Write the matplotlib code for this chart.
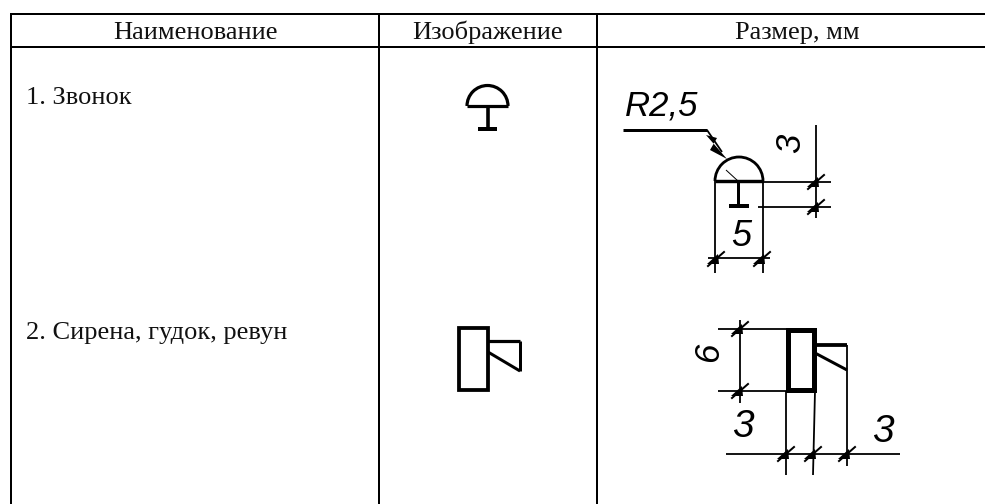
import numpy as np
import matplotlib
matplotlib.use("Agg")
import matplotlib.pyplot as plt
from matplotlib.patches import Arc, Polygon, Rectangle

headers = ["Наименование", "Изображение", "Размер, мм"]
rows = ["1. Звонок", "2. Сирена, гудок, ревун"]

# table grid, in reference pixels; the table runs off the right and bottom edges
grid_x = [11, 379, 597]
grid_top, grid_header = 14, 46.5
header_x = [195, 488, 797.5]

# (x0, y0, x1, y1, width in px)
thin = 1.8
segments = [
    # bell drawing
    (623, 130, 707, 130, 3.0), (707, 130, 722, 152, 1.8),
    (715, 181, 763, 181, 3.4), (738, 181, 738, 206, 3.0), (729, 206, 749, 206, 4.0),
    (715, 181, 715, 273, thin), (763, 181, 763, 273, thin),
    (708, 258, 770, 258, thin), (763, 182, 831, 182, thin), (758, 207, 831, 207, thin),
    (816, 125, 816, 218, thin), (726, 170, 738, 181, 1.0),
    # siren drawing
    (718, 329, 786, 329, thin), (718, 391, 786, 391, thin), (740, 320, 740, 403, thin),
    (786, 391, 786, 475, thin), (815, 391, 813, 475, thin), (847, 345, 847, 466, thin),
    (726, 454, 900, 454, thin),
    (815, 345, 847, 345, 3.8), (815, 353, 847, 370, 3.0),
    # icon: bell
    (467, 106, 508, 106, 3.2), (488, 106, 488, 128, 3.6), (478, 129, 497, 129, 4.0),
    # icon: siren
    (488, 341, 520, 341, 3.2), (520, 341, 520, 371, 3.0), (488, 352, 520, 371, 3.0),
]
# (cx, cy, diameter, width in px)
domes = [(739, 181, 48, 2.8), (487.5, 106, 41, 3.2)]
# (x, y, w, h, width in px)
boxes = [(788, 330, 26, 60, 5.0), (459, 328, 29, 62, 3.8)]
# dimension ticks (x, y)
ticks = [(716, 259), (762, 259), (816, 182), (816, 207), (740, 329), (740, 391),
         (786, 454), (813, 454), (847, 454)]
# arrowhead on the leader (polygon corners)
leader_head = [(706, 135), (727, 159), (710, 150), (717, 138)]
# drawing labels: text, x, y, size, rotation
notes = [("R2,5", 662, 106, 25, 0), ("5", 741, 236, 26, 0), ("3", 791, 143, 25, 90),
         ("6", 709, 352, 25, 90), ("3", 743, 427, 28, 0), ("3", 883, 432, 28, 0)]

fig = plt.figure(figsize=(9.85, 5.04), dpi=100)
ax = fig.add_axes([0, 0, 1, 1])
ax.set_xlim(0, 985)
ax.set_ylim(504, 0)
ax.axis("off")
px = 72 / 100  # one pixel in points

for x in grid_x:
    ax.plot([x, x], [grid_top, 504], color="black", lw=2 * px, solid_capstyle="projecting")
for y in (grid_top, grid_header):
    ax.plot([grid_x[0], 985], [y, y], color="black", lw=2 * px, solid_capstyle="projecting")

serif = dict(family="Liberation Serif", color="#111111")
for x, h in zip(header_x, headers):
    ax.text(x, 39, h, ha="center", va="baseline", fontsize=19, **serif)
for y, r in zip((104, 339), rows):
    ax.text(26, y, r, ha="left", va="baseline", fontsize=19, **serif)

for x0, y0, x1, y1, w in segments:
    ax.plot([x0, x1], [y0, y1], color="black", lw=w * px, solid_capstyle="butt", solid_joinstyle="miter")
for cx, cy, d, w in domes:
    # the y axis is inverted, so the upper half runs from 180 to 360
    ax.add_patch(Arc((cx, cy), d, d, theta1=180, theta2=360, color="black", lw=w * px))
for x, y, bw, bh, w in boxes:
    ax.add_patch(Rectangle((x, y), bw, bh, fill=False, ec="black", lw=w * px, joinstyle="miter"))
for x, y in ticks:
    ax.plot([x - 8, x + 8], [y + 7, y - 7], color="black", lw=2 * px)
    ax.add_patch(Polygon([(x - 9, y + 5), (x + 2, y - 5), (x + 3, y + 5)], color="black", lw=0))
ax.add_patch(Polygon(leader_head, color="black", lw=0))
for s, x, y, size, rot in notes:
    ax.text(x, y, s, ha="center", va="center", fontsize=size, rotation=rot,
            family="Liberation Sans", style="italic", color="black")

fig.savefig("out.png", dpi=100, facecolor="white")
